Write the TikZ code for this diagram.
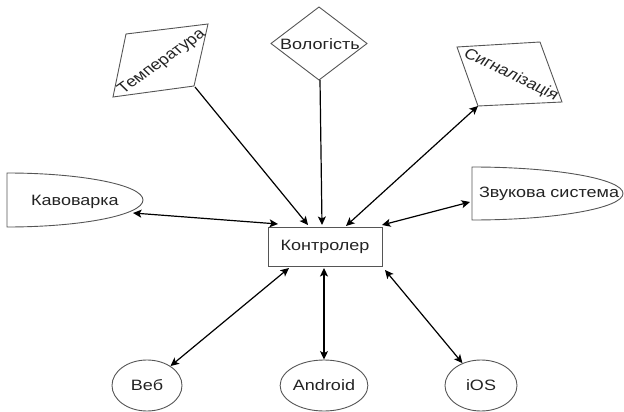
\documentclass[tikz,border=0pt]{standalone}
\usepackage{fontspec}
\setmainfont{Liberation Sans}
\newfontfamily\widefont{Liberation Sans}[FakeStretch=1.2]
\usetikzlibrary{arrows.meta,shapes.geometric}
\definecolor{shapegray}{RGB}{85,85,85}
\definecolor{txtgray}{RGB}{35,35,35}
\tikzset{
  shp/.style={draw=shapegray, line width=0.9pt},
  lbl/.style={text=txtgray, font=\widefont\fontsize{15}{18}\selectfont, inner sep=0pt},
  rlbl/.style={text=txtgray, font=\fontsize{15}{18}\selectfont, inner sep=0pt},
  conn/.style={line width=1.2pt, -{Stealth[length=8.5pt,width=8pt,inset=2pt]}},
  biconn/.style={line width=1.2pt, {Stealth[length=8.5pt,width=8pt,inset=2pt]}-{Stealth[length=8.5pt,width=8pt,inset=2pt]}},
}
\begin{document}
\begin{tikzpicture}[x=1pt,y=-1pt]
\useasboundingbox (0,0) rectangle (624,412);

% Temperature (parallelogram)
\draw[shp] (126,34) -- (208,24) -- (194,86) -- (113,97) -- cycle;
\node[rlbl, cm={0.911,0.651,-0.781,0.759,(0,0)}] (temp) at (162,62) {Температура};
\coordinate (tempE) at (195,87);

% Humidity (diamond)
\draw[shp] (319,7) -- (367,43.5) -- (319,80) -- (271,43.5) -- cycle;
\node[lbl] (vol) at (320,44) {Вологість};
\coordinate (volE) at (320,80);

% Signalization (parallelogram)
\draw[shp] (457,47) -- (540,42) -- (562,102) -- (478,106) -- cycle;
\node[rlbl, cm={1.036,-0.505,0.606,0.863,(0,0)}] (sig) at (511,75) {Сигналізація};
\coordinate (sigE) at (478,106);

% Coffee maker (half ellipse)
\draw[shp] (7,173) arc[start angle=90, end angle=-90, x radius=136pt, y radius=27pt] -- cycle;
\node[lbl] (kav) at (75,202) {Кавоварка};
\coordinate (kavE) at (133,213);

% Sound system (half ellipse)
\draw[shp] (472,167) arc[start angle=90, end angle=-90, x radius=151pt, y radius=26.5pt] -- cycle;
\node[lbl] (zv) at (549,194) {Звукова система};
\coordinate (zvE) at (470,202);

% Controller
\node[shp, lbl, rectangle, minimum width=114pt, minimum height=39pt] (ctrl) at (325,246.5) {Контролер};
\coordinate (cKav) at (278,224);
\coordinate (cTemp) at (308,225);
\coordinate (cVol) at (322,225);
\coordinate (cSig) at (346,226);
\coordinate (cZv) at (382,225);
\coordinate (cWeb) at (289,268);
\coordinate (cAnd) at (324,268);
\coordinate (cIos) at (385,270);

% Clients
\node[shp, lbl, ellipse, minimum width=70pt, minimum height=51pt] (web) at (147,385.5) {Веб};
\node[shp, lbl, ellipse, minimum width=72pt, minimum height=51pt] (and) at (324,385.5) {Android};
\node[shp, lbl, ellipse, minimum width=72pt, minimum height=51pt] (ios) at (481,385.5) {iOS};

% Connectors
\draw[conn] (tempE) -- (cTemp);
\draw[conn] (volE) -- (cVol);
\draw[biconn] (sigE) -- (cSig);
\draw[biconn] (kavE) -- (cKav);
\draw[biconn] (zvE) -- (cZv);
\draw[biconn] (cWeb) -- (web);
\draw[biconn] (cAnd) -- (and);
\draw[biconn] (cIos) -- (ios);
\end{tikzpicture}
\end{document}
